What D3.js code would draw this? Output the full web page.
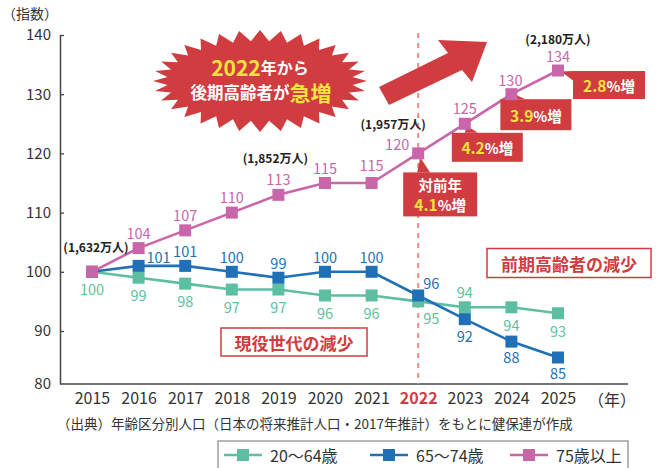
<!DOCTYPE html>
<html>
<head>
<meta charset="utf-8">
<script src="https://cdn.jsdelivr.net/npm/d3@7"></script>
<style>
  body { margin: 0; background: #fff; }
  svg { display: block; font-family: "Noto Sans CJK JP", "Noto Sans", sans-serif; }
</style>
</head>
<body>
<svg id="chart" width="659" height="468"></svg>
<script>
// ---- data ----
const years = [2015, 2016, 2017, 2018, 2019, 2020, 2021, 2022, 2023, 2024, 2025];
const age20to64 = [100, 99, 98, 97, 97, 96, 96, 95, 94, 94, 93];
const age65to74 = [100, 101, 101, 100, 99, 100, 100, 96, 92, 88, 85];
const age75plus = [100, 104, 107, 110, 113, 115, 115, 120, 125, 130, 134];
const yTicks = [80, 90, 100, 110, 120, 130, 140];
const seriesNames = ['20〜64歳', '65〜74歳', '75歳以上'];
const popYears = [2015, 2019, 2022, 2025];
const popTexts = ['(1,632万人)', '(1,852万人)', '(1,957万人)', '(2,180万人)'];
const growthYears = [2022, 2023, 2024, 2025];
const growthRates = ['4.1', '4.2', '3.9', '2.8'];

const colors = { green: '#5dbfa2', blue: '#1f70b6', pink: '#c866a9', red: '#d03c3f', yellow: '#f5e23c', dash: '#ec8c82', text: '#333' };

const svg = d3.select('#chart');

// the printed axis is a little squeezed below 90, so the scale is piecewise
const x = d3.scaleLinear().domain([2015, 2025]).range([92, 558]);
const y = d3.scaleLinear().domain([80, 90, 140]).range([384, 331, 35]);

// label offsets (dx, dy) for every point, by series
const off = (dx, dy) => ({ dx, dy });
const greenOff = years.map(() => off(0, 17));
greenOff[7] = off(13, 16);
greenOff[8] = off(0, -16);
const blueOff = years.map(() => off(0, -15));
blueOff[1] = off(20, -9);
blueOff[7] = off(13, -13);
blueOff[8] = off(0, 16);
blueOff[9] = off(0, 15);
blueOff[10] = off(0, 15);
const pinkOff = years.map(() => off(0, -16));
pinkOff[6] = off(0, -19);
pinkOff[7] = off(-21, -10);
pinkOff[9] = off(-1, -15);
pinkOff[10] = off(0, -15);

const series = [
  { name: seriesNames[0], values: age20to64, color: colors.green, offs: greenOff, skip: [] },
  { name: seriesNames[1], values: age65to74, color: colors.blue, offs: blueOff, skip: [0] },
  { name: seriesNames[2], values: age75plus, color: colors.pink, offs: pinkOff, skip: [0] }
];

// ---- (指数) and y axis ----
svg.append('text')
  .attr('x', 2).attr('y', 13)
  .attr('font-size', 14).attr('fill', colors.text)
  .attr('dominant-baseline', 'central')
  .text('（指数）');

const yAxis = svg.append('g')
  .attr('transform', 'translate(60,0)')
  .call(d3.axisLeft(y).tickValues(yTicks).tickSize(-4).tickSizeOuter(0).tickPadding(9));
yAxis.attr('font-family', null).attr('font-size', 15);
yAxis.select('.domain').attr('stroke', '#444').attr('stroke-width', 1.5);
yAxis.selectAll('.tick line').attr('stroke', '#444').attr('stroke-width', 1.3);
yAxis.selectAll('.tick text').attr('fill', colors.text);
yAxis.selectAll('.tick').filter(d => d === 80).select('line').remove();

// ---- x axis ----
svg.append('line')
  .attr('x1', 60).attr('x2', 628)
  .attr('y1', y(80)).attr('y2', y(80))
  .attr('stroke', '#444').attr('stroke-width', 1.5);

const xAxis = svg.append('g')
  .attr('transform', `translate(0,${y(80)})`)
  .call(d3.axisBottom(x).tickValues(years).tickSize(0).tickPadding(9).tickFormat(d3.format('d')));
xAxis.attr('font-family', null).attr('font-size', 16);
xAxis.select('.domain').remove();
xAxis.selectAll('.tick text').attr('fill', colors.text);
xAxis.selectAll('.tick').filter(d => d === 2022).select('text')
  .attr('fill', colors.red).attr('font-weight', 'bold');

svg.append('text')
  .attr('x', 612).attr('y', y(80) + 15)
  .attr('text-anchor', 'middle').attr('dominant-baseline', 'central')
  .attr('font-size', 16).attr('fill', colors.text)
  .text('（年）');

// ---- 2022 dashed line ----
svg.append('line')
  .attr('x1', x(2022)).attr('x2', x(2022))
  .attr('y1', 33).attr('y2', y(80))
  .attr('stroke', colors.dash).attr('stroke-width', 2)
  .attr('stroke-dasharray', '5,5');

// ---- starburst ----
const star = { cx: 260, cy: 81, n: 32, orx: 107, ory: 51, irx: 93, iry: 40 };
const starPts = d3.range(star.n * 2).map(i => {
  const a = Math.PI * i / star.n;
  const outer = i % 2 === 0;
  return [star.cx + Math.cos(a) * (outer ? star.orx : star.irx),
          star.cy + Math.sin(a) * (outer ? star.ory : star.iry)];
});
svg.append('path')
  .attr('d', d3.line()(starPts) + 'Z')
  .attr('fill', colors.red);

const l1 = svg.append('text')
  .attr('x', 260).attr('y', 67)
  .attr('text-anchor', 'middle').attr('dominant-baseline', 'central')
  .attr('font-weight', 'bold');
l1.append('tspan').attr('fill', colors.yellow).attr('font-size', 21).text('2022');
l1.append('tspan').attr('fill', '#fff').attr('font-size', 16).text('年から');

const l2 = svg.append('text')
  .attr('x', 261).attr('y', 92)
  .attr('text-anchor', 'middle').attr('dominant-baseline', 'central')
  .attr('font-weight', 'bold');
l2.append('tspan').attr('fill', '#fff').attr('font-size', 16.5).text('後期高齢者が');
l2.append('tspan').attr('fill', colors.yellow).attr('font-size', 21).text('急増');

// ---- big arrow ----
svg.append('path')
  .attr('d', d3.line()([[379, 87], [448, 53], [438, 40], [487, 42], [472, 82], [462, 70], [389, 105]]) + 'Z')
  .attr('fill', colors.red);

// ---- boxed notes ----
function note(cx, cy, w, h, label) {
  svg.append('rect')
    .attr('x', cx - w / 2).attr('y', cy - h / 2)
    .attr('width', w).attr('height', h)
    .attr('fill', '#fff').attr('stroke', colors.red).attr('stroke-width', 1.5);
  svg.append('text')
    .attr('x', cx).attr('y', cy)
    .attr('text-anchor', 'middle').attr('dominant-baseline', 'central')
    .attr('font-size', 17).attr('font-weight', 'bold').attr('fill', colors.red)
    .text(label);
}
note(569, 263, 164, 29, '前期高齢者の減少');
note(294, 342, 146, 28, '現役世代の減少');

// ---- lines ----
const line = d3.line().x((d, i) => x(years[i])).y(d => y(d));
series.forEach(s => {
  svg.append('path')
    .datum(s.values)
    .attr('d', line)
    .attr('fill', 'none')
    .attr('stroke', s.color)
    .attr('stroke-width', 2.6);
});

// ---- growth callouts (75+), boxes hang off the markers ----
const calloutLayout = [
  { dx: -15, dy: 19, w: 74, h: 44, tri: [[2, 4], [-1, 19], [12, 19]] },
  { dx: -13, dy: 9, w: 71, h: 29, tri: [[2, 2], [0, 9], [13, 9]] },
  { dx: -11, dy: 5, w: 71, h: 31, tri: [[3, 0], [3, 5], [14, 5]] },
  { dx: 15, dy: 0.5, w: 72, h: 28, tri: [[3, 1], [15, 0.5], [15, 10]] }
];
growthYears.forEach((yr, k) => {
  const i = years.indexOf(yr);
  const mx = x(yr), my = y(age75plus[i]);
  const c = calloutLayout[k];
  svg.append('path')
    .attr('d', d3.line()(c.tri.map(p => [mx + p[0], my + p[1]])) + 'Z')
    .attr('fill', colors.red);
  svg.append('rect')
    .attr('x', mx + c.dx).attr('y', my + c.dy)
    .attr('width', c.w).attr('height', c.h)
    .attr('fill', colors.red);
  const tx = mx + c.dx + c.w / 2;
  let ty = my + c.dy + c.h / 2;
  if (k === 0) {
    svg.append('text')
      .attr('x', tx).attr('y', my + c.dy + 12)
      .attr('text-anchor', 'middle').attr('dominant-baseline', 'central')
      .attr('font-size', 14.5).attr('font-weight', 'bold').attr('fill', '#fff')
      .text('対前年');
    ty = my + c.dy + 32;
  }
  const t = svg.append('text')
    .attr('x', tx).attr('y', ty)
    .attr('text-anchor', 'middle').attr('dominant-baseline', 'central')
    .attr('font-weight', 'bold');
  t.append('tspan').attr('fill', colors.yellow).attr('font-size', 15.5).text(growthRates[k]);
  t.append('tspan').attr('fill', '#fff').attr('font-size', 14.5).text('%増');
});

// ---- markers and value labels ----
series.forEach(s => {
  svg.append('g').selectAll('rect')
    .data(s.values)
    .join('rect')
    .attr('x', (d, i) => x(years[i]) - 6)
    .attr('y', d => y(d) - 6)
    .attr('width', 12).attr('height', 12)
    .attr('fill', s.color);
});
series.forEach(s => {
  svg.append('g').selectAll('text')
    .data(s.values.map((v, i) => ({ v, i })).filter(d => !s.skip.includes(d.i)))
    .join('text')
    .attr('x', d => x(years[d.i]) + s.offs[d.i].dx)
    .attr('y', d => y(d.v) + s.offs[d.i].dy)
    .attr('text-anchor', 'middle').attr('dominant-baseline', 'central')
    .attr('font-size', 14.5).attr('fill', s.color)
    .text(d => d.v);
});

// ---- population notes ----
const popOff = [[4, -25], [-3, -37], [-25, -30], [0, -32]];
popYears.forEach((yr, k) => {
  const i = years.indexOf(yr);
  svg.append('text')
    .attr('x', x(yr) + popOff[k][0]).attr('y', y(age75plus[i]) + popOff[k][1])
    .attr('text-anchor', 'middle').attr('dominant-baseline', 'central')
    .attr('font-size', 12).attr('font-weight', 'bold').attr('fill', '#222')
    .text(popTexts[k]);
});

// ---- source ----
svg.append('text')
  .attr('x', 57).attr('y', 423)
  .attr('dominant-baseline', 'central')
  .attr('font-size', 13.5).attr('fill', colors.text)
  .text('（出典）年齢区分別人口（日本の将来推計人口・2017年推計）をもとに健保連が作成');

// ---- legend ----
const legend = svg.append('g');
legend.append('rect')
  .attr('x', 218).attr('y', 441).attr('width', 410).attr('height', 40)
  .attr('fill', '#fff').attr('stroke', '#888').attr('stroke-width', 1.2);
const legendX = [243, 389, 529];
series.forEach((s, k) => {
  const g = legend.append('g').attr('transform', `translate(${legendX[k]},455)`);
  g.append('line').attr('x1', -19).attr('x2', 19).attr('stroke', s.color).attr('stroke-width', 2.6);
  g.append('rect').attr('x', -6).attr('y', -6).attr('width', 12).attr('height', 12).attr('fill', s.color);
  g.append('text')
    .attr('x', 27).attr('dominant-baseline', 'central')
    .attr('font-size', 16).attr('fill', colors.text)
    .text(s.name);
});
</script>
</body>
</html>
